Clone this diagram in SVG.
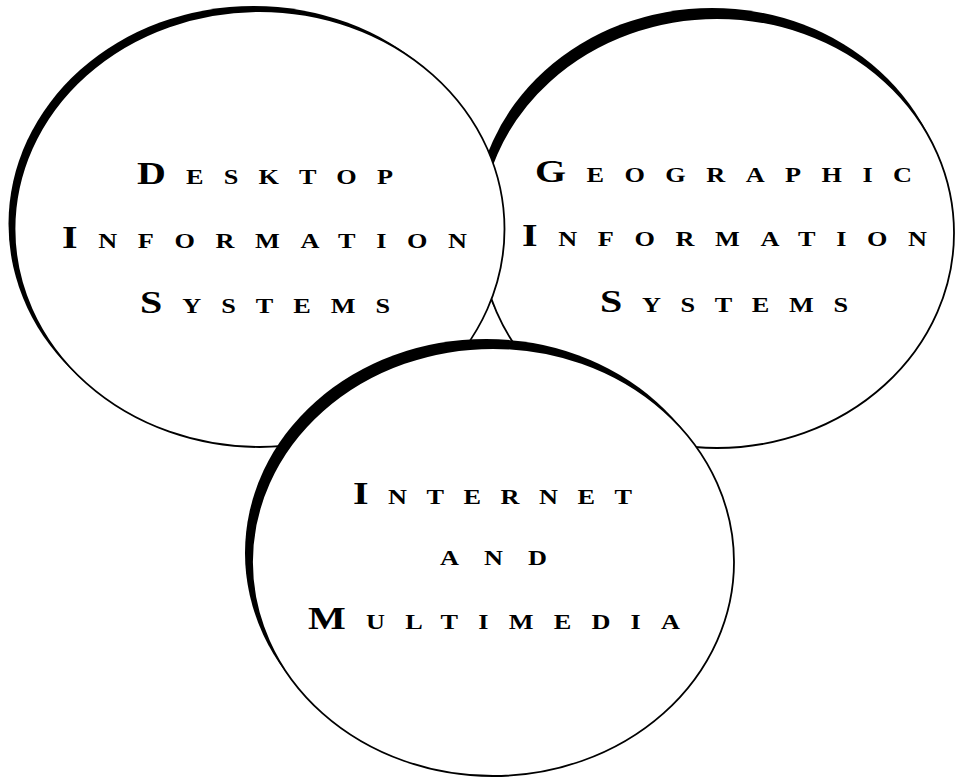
<svg xmlns="http://www.w3.org/2000/svg" width="956" height="778" viewBox="0 0 956 778">
<style>
.shadow{fill:#000;stroke:none}
.disc{fill:#fff;stroke:#000;stroke-width:1.8}
.lbl{font-family:"Liberation Serif","DejaVu Serif",serif;font-weight:bold;font-size:21px;fill:#000}
.cap{font-size:32px}
</style>
<rect width="956" height="778" fill="#fff"/>
<g id="geographic">
<ellipse class="shadow" cx="712" cy="223" rx="237" ry="215"/>
<ellipse class="disc" cx="717" cy="233" rx="237" ry="215"/>
<text class="lbl" transform="translate(535 182) scale(1.25 1)" textLength="301.6" lengthAdjust="spacing"><tspan class="cap">G</tspan>EOGRAPHIC</text>
<text class="lbl" transform="translate(522 246) scale(1.25 1)" textLength="324" lengthAdjust="spacing"><tspan class="cap">I</tspan>NFORMATION</text>
<text class="lbl" transform="translate(600 312) scale(1.25 1)" textLength="198.4" lengthAdjust="spacing"><tspan class="cap">S</tspan>YSTEMS</text>
</g>
<g id="desktop">
<ellipse class="shadow" cx="253.5" cy="224" rx="245" ry="218"/>
<ellipse class="disc" cx="259.5" cy="229" rx="245" ry="218"/>
<text class="lbl" transform="translate(137 184) scale(1.25 1)" textLength="204.8" lengthAdjust="spacing"><tspan class="cap">D</tspan>ESKTOP</text>
<text class="lbl" transform="translate(62 248) scale(1.25 1)" textLength="324" lengthAdjust="spacing"><tspan class="cap">I</tspan>NFORMATION</text>
<text class="lbl" transform="translate(140 313) scale(1.25 1)" textLength="200" lengthAdjust="spacing"><tspan class="cap">S</tspan>YSTEMS</text>
</g>
<g id="internet">
<ellipse class="shadow" cx="486" cy="553" rx="241" ry="214"/>
<ellipse class="disc" cx="493" cy="562" rx="241" ry="214"/>
<text class="lbl" transform="translate(353 504) scale(1.25 1)" textLength="223.2" lengthAdjust="spacing"><tspan class="cap">I</tspan>NTERNET</text>
<text class="lbl" transform="translate(440 565) scale(1.25 1)" textLength="85.6" lengthAdjust="spacing">AND</text>
<text class="lbl" transform="translate(308 629) scale(1.25 1)" textLength="297.6" lengthAdjust="spacing"><tspan class="cap">M</tspan>ULTIMEDIA</text>
</g>
<g id="connectors"/>
</svg>
